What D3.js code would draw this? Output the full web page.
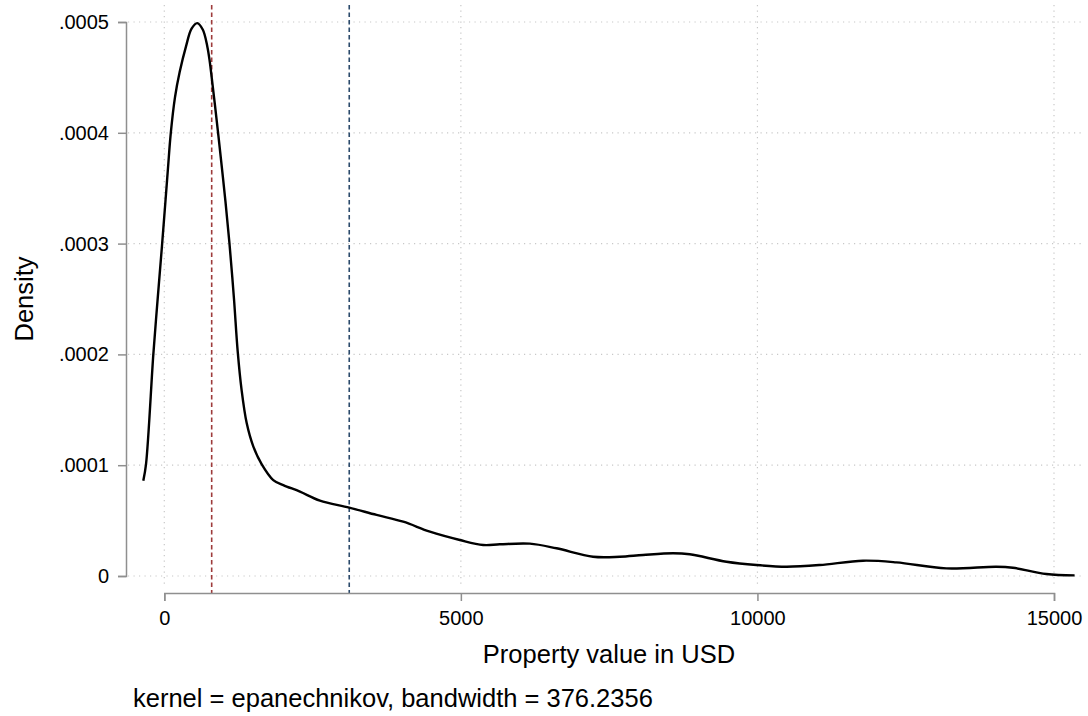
<!DOCTYPE html>
<html>
<head>
<meta charset="utf-8">
<script src="https://cdn.jsdelivr.net/npm/d3@7.9.0/dist/d3.min.js"></script>
<style>
  body { margin: 0; background: #fff; }
  svg text { font-family: "Liberation Sans", Arial, Helvetica, sans-serif; fill: #000; }
</style>
</head>
<body>
<svg id="chart" width="1088" height="716"></svg>
<script>
// property values (USD) and the kernel density
const propertyValues = [-354, -308, -185, -115, -39, 19, 62, 108, 180, 260, 366, 460, 556,
  650, 725, 767, 799, 854, 913, 972, 1031, 1099, 1175, 1237, 1303, 1389, 1500, 1641, 1837,
  2006, 2287, 2624, 3118, 3579, 4028, 4478, 4983, 5376, 5657, 6163, 6613, 7229, 7680,
  8072, 8578, 8859, 9478, 9983, 10489, 11050, 11780, 12342, 13185, 14028, 14307, 14870, 15347];
const densities = [0.0000860, 0.000101, 0.000200, 0.000248, 0.000298, 0.000338, 0.000368,
  0.000399, 0.000432, 0.000455, 0.000478, 0.000494, 0.000499,
  0.000493, 0.000478, 0.000464, 0.000450, 0.000425, 0.000397, 0.000368, 0.000338, 0.000300,
  0.000250, 0.000203, 0.000168, 0.000138, 0.000117, 0.000101, 0.0000866,
  0.0000821, 0.0000761, 0.0000680, 0.0000617, 0.0000551, 0.0000490, 0.0000400, 0.0000325,
  0.0000280, 0.0000286, 0.0000292, 0.0000250, 0.0000174, 0.0000174,
  0.0000190, 0.0000205, 0.0000196, 0.0000129, 0.0000099, 0.0000084, 0.0000099, 0.0000138,
  0.0000123, 0.0000069, 0.0000084, 0.0000075, 0.0000018, 0.0000006];

const xTicks = [0, 5000, 10000, 15000];
const yTicks = [0, 0.0001, 0.0002, 0.0003, 0.0004, 0.0005];

// reference lines: median (red) and mean (blue)
const refValues = [799, 3118];
const refColors = ["#9e3b3b", "#2b4a6b"];

const svg = d3.select("#chart");

const x = d3.scaleLinear().domain([0, 15000]).range([164.3, 1054]);
const y = d3.scaleLinear().domain([0, 0.0005]).range([576, 22]);

const plotLeft = 128, plotRight = 1082, plotTop = 5, plotBottom = 588;

// grid
svg.append("g").selectAll("line").data(yTicks).join("line")
  .attr("x1", plotLeft).attr("x2", plotRight)
  .attr("y1", d => y(d)).attr("y2", d => y(d))
  .attr("stroke", "#c8c8c8").attr("stroke-width", 1.2)
  .attr("stroke-dasharray", "1.2 4.3");

svg.append("g").selectAll("line").data(xTicks).join("line")
  .attr("x1", d => x(d)).attr("x2", d => x(d))
  .attr("y1", plotTop).attr("y2", plotBottom)
  .attr("stroke", "#c8c8c8").attr("stroke-width", 1.2)
  .attr("stroke-dasharray", "1.2 4.3");

// dashed reference lines
svg.append("g").selectAll("line").data(refValues).join("line")
  .attr("x1", d => x(d)).attr("x2", d => x(d))
  .attr("y1", plotTop).attr("y2", 593)
  .attr("stroke", (d, i) => refColors[i]).attr("stroke-width", 1.6)
  .attr("stroke-dasharray", "4.5 3");

// density curve
const pts = propertyValues.map((v, i) => [v, densities[i]]);
const line = d3.line()
  .x(d => x(d[0]))
  .y(d => y(d[1]))
  .curve(d3.curveCatmullRom.alpha(0.5));

svg.append("path")
  .attr("d", line(pts))
  .attr("fill", "none")
  .attr("stroke", "#000")
  .attr("stroke-width", 2.4);

// axes
const fmtY = d => d === 0 ? "0" : d3.format(".4f")(d).replace(/^0/, "");

const yAxis = svg.append("g")
  .attr("transform", "translate(126,0)")
  .call(d3.axisLeft(y).tickValues(yTicks).tickFormat(fmtY).tickSize(8).tickPadding(9));

const xAxis = svg.append("g")
  .attr("transform", "translate(0,593)")
  .call(d3.axisBottom(x).tickValues(xTicks).tickFormat(d3.format("d")).tickSize(8).tickPadding(10));

[yAxis, xAxis].forEach(g => {
  g.selectAll("path, line").attr("stroke", "#8f8f8f").attr("stroke-width", 1.5);
  g.selectAll("text").style("font-size", "20px").attr("fill", "#000");
});

// titles
svg.append("text")
  .attr("transform", "translate(33,299) rotate(-90)")
  .attr("text-anchor", "middle")
  .style("font-size", "25.5px")
  .text("Density");

svg.append("text")
  .attr("x", 609).attr("y", 663)
  .attr("text-anchor", "middle")
  .style("font-size", "25.5px")
  .text("Property value in USD");

svg.append("text")
  .attr("x", 133).attr("y", 707)
  .style("font-size", "25.5px")
  .text("kernel = epanechnikov, bandwidth = 376.2356");
</script>
</body>
</html>
